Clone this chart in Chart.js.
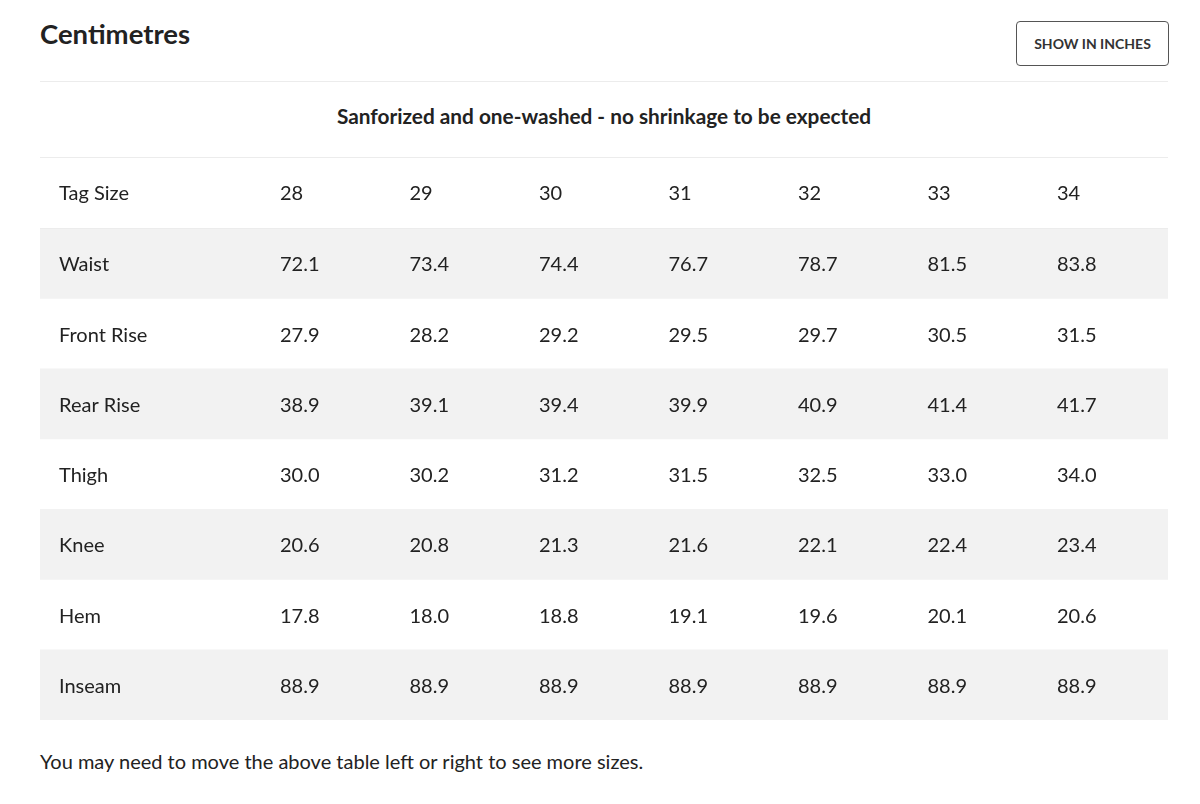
<!DOCTYPE html>
<html>
<head>
<meta charset="utf-8">
<script src="https://cdn.jsdelivr.net/npm/chart.js@4.4.0/dist/chart.umd.min.js"></script>
<style>
  body { margin: 0; background: #fff; font-family: Lato, sans-serif; color: #222; }
  .page { position: relative; width: 1200px; height: 804px; }
  h2 { position: absolute; left: 40px; top: 17px; margin: 0; font-size: 27.5px; font-weight: 700; }
  .btn { position: absolute; left: 1016px; top: 21px; border: 1px solid #555;
         border-radius: 4px; box-sizing: border-box; width: 153px; height: 45px;
         font-size: 14px; font-weight: 700; line-height: 43px; text-align: center; color: #333; }
  .rule { position: absolute; left: 40px; width: 1128px; height: 1px; background: #ececec; }
  .sub { position: absolute; left: 40px; width: 1128px; top: 103px; text-align: center; font-size: 20.8px; font-weight: 700; }
  .wrap { position: absolute; left: 40px; top: 158px; width: 1128px; height: 562px; }
  .foot { position: absolute; left: 40px; top: 749px; font-size: 20px; }
</style>
</head>
<body>
<div class="page">
  <h2>Centimetres</h2>
  <div class="btn">SHOW IN INCHES</div>
  <div class="rule" style="top:81px"></div>
  <div class="sub">Sanforized and one-washed - no shrinkage to be expected</div>
  <div class="rule" style="top:157px"></div>
  <div class="wrap"><canvas id="sizeChart"></canvas></div>
  <div class="foot">You may need to move the above table left or right to see more sizes.</div>
</div>
<script>
// size table data (cm)
const tagSizes = ['28', '29', '30', '31', '32', '33', '34'];
const rowNames = ['Tag Size', 'Waist', 'Front Rise', 'Rear Rise', 'Thigh', 'Knee', 'Hem', 'Inseam'];
const waist = [72.1, 73.4, 74.4, 76.7, 78.7, 81.5, 83.8];
const frontRise = [27.9, 28.2, 29.2, 29.5, 29.7, 30.5, 31.5];
const rearRise = [38.9, 39.1, 39.4, 39.9, 40.9, 41.4, 41.7];
const thigh = [30.0, 30.2, 31.2, 31.5, 32.5, 33.0, 34.0];
const knee = [20.6, 20.8, 21.3, 21.6, 22.1, 22.4, 23.4];
const hem = [17.8, 18.0, 18.8, 19.1, 19.6, 20.1, 20.6];
const inseam = [88.9, 88.9, 88.9, 88.9, 88.9, 88.9, 88.9];

const measureRows = [waist, frontRise, rearRise, thigh, knee, hem, inseam];

// column axis: column i sits at value i+1, label column drawn at left edge
const X_MIN = -0.853;
const X_MAX = 7.857;

// Stripe every other row (Waist, Rear Rise, Knee, Inseam)
const stripeData = rowNames.map((r, i) => (i % 2 === 1 ? [X_MIN, X_MAX] : null));

// Draws the cell texts through the chart scales
const cellText = {
    id: 'cellText',
    afterDatasetsDraw(chart) {
        const { ctx, scales: { x, y }, chartArea } = chart;
        ctx.save();
        ctx.fillStyle = '#222';
        ctx.font = '20px Lato, sans-serif';
        ctx.textBaseline = 'middle';
        ctx.textAlign = 'left';
        rowNames.forEach((name, r) => {
            const py = y.getPixelForValue(r) + (r === 0 ? 0 : 1.5);
            ctx.fillText(name, chartArea.left + 19, py);
            const vals = r === 0 ? tagSizes : measureRows[r - 1].map(v => v.toFixed(1));
            vals.forEach((v, c) => {
                ctx.fillText(v, x.getPixelForValue(c + 1), py);
            });
        });
        // light row border under the header row
        ctx.fillStyle = '#ececec';
        const band = y.getPixelForValue(1) - y.getPixelForValue(0);
        ctx.fillRect(chartArea.left, Math.round(y.getPixelForValue(1) - band / 2), chartArea.right - chartArea.left, 1);
        ctx.restore();
    }
};

new Chart(document.getElementById('sizeChart'), {
    type: 'bar',
    data: {
        labels: rowNames,
        datasets: [{
            data: stripeData,
            backgroundColor: '#f2f2f2',
            borderWidth: 0,
            barPercentage: 1,
            categoryPercentage: 1
        }]
    },
    options: {
        indexAxis: 'y',
        responsive: true,
        maintainAspectRatio: false,
        animation: false,
        events: [],
        layout: { padding: 0 },
        plugins: {
            legend: { display: false },
            tooltip: { enabled: false }
        },
        scales: {
            x: { type: 'linear', min: X_MIN, max: X_MAX, display: false },
            y: { type: 'category', display: false, offset: true }
        }
    },
    plugins: [cellText]
});
</script>
</body>
</html>
